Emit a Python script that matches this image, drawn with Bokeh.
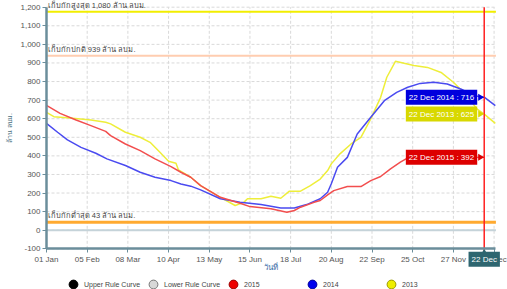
from bokeh.plotting import figure
from bokeh.models import (Range1d, FixedTicker, Label, Legend, LegendItem,
                          NumeralTickFormatter)
from bokeh.embed import file_html
from bokeh.resources import INLINE
import numpy as np
import math

# ---------------- data ----------------
tick_days = [0, 33, 66, 99, 132, 165, 198, 231, 264, 297, 330, 363]
tick_labels = ["01 Jan", "05 Feb", "08 Mar", "10 Apr", "13 May", "15 Jun",
               "18 Jul", "20 Aug", "22 Sep", "25 Oct", "27 Nov", "30 Dec"]
y_ticks = list(range(-100, 1201, 100))

days_2015 = [0, 11, 24, 36, 48, 52, 64, 76, 88, 101, 109, 117, 125, 141, 157, 165,
             182, 195, 201, 206, 217, 222, 228, 233, 244, 255, 263, 271, 279, 287,
             293, 300, 315, 330, 345, 355]
vals_2015 = [672, 629, 593, 563, 532, 509, 464, 428, 384, 342, 312, 285, 240, 177, 145, 127,
             115, 97, 106, 124, 150, 160, 190, 213, 235, 235, 267, 289, 330, 366,
             389, 391, 390, 392, 391, 392]

days_2014 = [0, 9, 17, 28, 40, 49, 64, 76, 88, 101, 109, 117, 125, 141, 157, 174,
             190, 201, 211, 222, 228, 231, 236, 244, 252, 263, 274, 284, 293, 303,
             314, 325, 336, 347, 355, 364]
vals_2014 = [575, 527, 486, 446, 414, 384, 348, 312, 285, 267, 249, 237, 217, 169, 150, 138,
             120, 120, 138, 169, 204, 250, 339, 392, 518, 608, 697, 742, 769, 790,
             796, 787, 760, 724, 716, 670]

days_2013 = [0, 6, 19, 36, 48, 52, 64, 76, 84, 92, 99, 105, 107, 117, 125, 141,
             153, 160, 163, 174, 182, 190, 197, 206, 214, 222, 228, 231, 238, 247,
             255, 263, 271, 276, 283, 290, 298, 309, 320, 330, 341, 349, 355, 364]
vals_2013 = [634, 611, 604, 593, 581, 572, 527, 500, 473, 419, 371, 360, 325, 285, 240, 177,
             133, 150, 169, 169, 183, 172, 210, 210, 240, 275, 321, 357, 411, 464,
             500, 599, 715, 823, 909, 898, 886, 876, 849, 796, 724, 653, 625, 575]

ref_levels = [1175, 939, 43]
ref_texts = ["เก็บกักสูงสุด 1,080 ล้าน ลบม.",
             "เก็บกักปกติ 939 ล้าน ลบม.",
             "เก็บกักต่ำสุด 43 ล้าน ลบม."]

cursor_day = 355
cursor_text = "22 Dec"
tip_years = ["2015", "2014", "2013"]
tip_values = [392, 716, 625]

legend_labels = ["Upper Rule Curve", "Lower Rule Curve", "2015", "2014", "2013"]

X_START, X_END = 0, 364.5
Y_MIN, Y_MAX = -100, 1200

# ---------------- styles / layout ----------------
FONT = "Liberation Sans"
series_colors = {"2015": "#f24e4e", "2014": "#4a4af0", "2013": "#eeee3a"}
tip_colors = {"2015": "#dd0000", "2014": "#0000dd", "2013": "#d8d800"}
ref_colors = ["#f2ee00", "#ffcdb0", "#ffaa30"]
ref_widths = [2, 2, 3]
axis_col = "#6b8e9b"

W, H = 507, 289
px_per_day = 1.233
frame_left_px = 46               # y axis position in figure pixels
top_px, bottom_px = 6.7, 248.3   # pixels of Y_MAX and Y_MIN
u_per_px = (Y_MAX - Y_MIN) / (bottom_px - top_px)
x_range = Range1d(X_START - frame_left_px / px_per_day,
                  X_START + (W - frame_left_px) / px_per_day)
y_range = Range1d(Y_MIN - (H - bottom_px) * u_per_px, Y_MAX + top_px * u_per_px)

p = figure(width=W, height=H, x_range=x_range, y_range=y_range,
           output_backend="svg", toolbar_location=None,
           min_border_top=0, min_border_right=0, min_border_left=0, min_border_bottom=0)
p.outline_line_color = None
p.background_fill_color = "white"
p.xgrid.visible = False
p.ygrid.visible = False

# grid lines (dashed) drawn within the plotting area only
p.segment(x0=tick_days, y0=[Y_MIN] * len(tick_days), x1=tick_days, y1=[Y_MAX] * len(tick_days),
          line_color="#d9d9d9", line_dash="3 2", line_width=1)
p.segment(x0=[X_START] * len(y_ticks), y0=y_ticks, x1=[X_END] * len(y_ticks), y1=y_ticks,
          line_color="#d9d9d9", line_dash="3 2", line_width=1)

# axes (fixed inside the frame)
p.xaxis.fixed_location = Y_MIN
p.yaxis.fixed_location = X_START
p.xaxis.bounds = (X_START, X_END)
p.yaxis.bounds = (Y_MIN, Y_MAX)
p.xaxis.ticker = FixedTicker(ticks=tick_days)
p.xaxis.major_label_overrides = {d: t for d, t in zip(tick_days, tick_labels)}
p.yaxis.ticker = FixedTicker(ticks=y_ticks)
p.yaxis.formatter = NumeralTickFormatter(format="0,0")
for ax in (p.xaxis, p.yaxis):
    ax.axis_line_color = axis_col
    ax.axis_line_width = 2.5
    ax.major_tick_line_color = axis_col
    ax.major_tick_out = 4
    ax.major_tick_in = 0
    ax.minor_tick_line_color = None
    ax.major_label_text_font = FONT
    ax.major_label_text_font_size = "8px"
    ax.major_label_text_color = "#555555"
    ax.major_label_standoff = 2
    ax.axis_label_text_font = FONT
    ax.axis_label_text_font_style = "normal"
p.xaxis.axis_label = "วันที่"
p.xaxis.axis_label_text_color = "#3d6fa8"
p.xaxis.axis_label_text_font_size = "8px"
p.xaxis.axis_label_standoff = -4
p.yaxis.axis_label = "ล้าน ลบม."
p.yaxis.axis_label_text_color = "#4a6f80"
p.yaxis.axis_label_text_font_size = "7px"
p.yaxis.axis_label_standoff = 4

# reference levels
p.segment(x0=[X_START], y0=[0], x1=[X_END], y1=[0], line_color="#c5d3d9", line_width=2)
for lev, txt, col, w in zip(ref_levels, ref_texts, ref_colors, ref_widths):
    p.segment(x0=[X_START], y0=[lev], x1=[X_END], y1=[lev], line_color=col, line_width=w)
    p.add_layout(Label(x=X_START + 1, y=lev, y_offset=2, text=txt, text_font=FONT,
                       text_font_size="7.5px", text_color="#444444",
                       text_baseline="bottom"))

# series
p.line(days_2013, vals_2013, line_color=series_colors["2013"], line_width=1.5)
p.line(days_2014, vals_2014, line_color=series_colors["2014"], line_width=1.5)
p.line(days_2015, vals_2015, line_color=series_colors["2015"], line_width=1.5)

# cursor line
p.segment(x0=[cursor_day], y0=[Y_MIN - 8 * u_per_px], x1=[cursor_day], y1=[Y_MAX],
          line_color="#ff2020", line_width=1.5)

for yr, v in zip(tip_years, tip_values):
    p.add_layout(Label(x=cursor_day, y=v, x_offset=-7, text=f"{cursor_text} {yr} : {v}",
                       text_font=FONT, text_font_size="8px", text_color="white",
                       text_align="right", text_baseline="middle",
                       background_fill_color=tip_colors[yr], padding=3))
    p.scatter([cursor_day - 4.0 / px_per_day], [v], marker="triangle", angle=-math.pi / 2,
              size=7, fill_color=tip_colors[yr], line_color=None)

# cursor date box on the x axis
p.scatter([cursor_day], [Y_MIN - 3.5 * u_per_px], marker="triangle", size=6,
          fill_color="#2e6670", line_color=None)
p.add_layout(Label(x=cursor_day, y=Y_MIN, y_offset=-10.5, text=cursor_text,
                   text_font=FONT, text_font_size="8px", text_color="white",
                   text_align="center", text_baseline="middle",
                   background_fill_color="#2e6670", padding=3))

# legend (markers only; the series are drawn above)
leg_fill = ["#000000", "#d8d8d8", "#ee0000", "#0000ee", "#eeee00"]
leg_line = ["#000000", "#777777", "#990000", "#000099", "#999900"]
items = []
for lab, fc, lc in zip(legend_labels, leg_fill, leg_line):
    r = p.scatter(x=np.array([np.nan]), y=np.array([np.nan]), marker="circle", size=10,
                  fill_color=fc, line_color=lc)
    items.append(LegendItem(label=lab, renderers=[r]))
legend = Legend(items=items, orientation="horizontal", location=(62, -6),
                label_text_font=FONT, label_text_font_size="7px",
                label_text_color="#444444", glyph_width=22, glyph_height=22,
                label_width=55, label_standoff=0, spacing=2, padding=0, margin=0,
                border_line_color=None, background_fill_alpha=0)
p.add_layout(legend, "center")

open("out.html", "w").write(file_html(p, INLINE))
